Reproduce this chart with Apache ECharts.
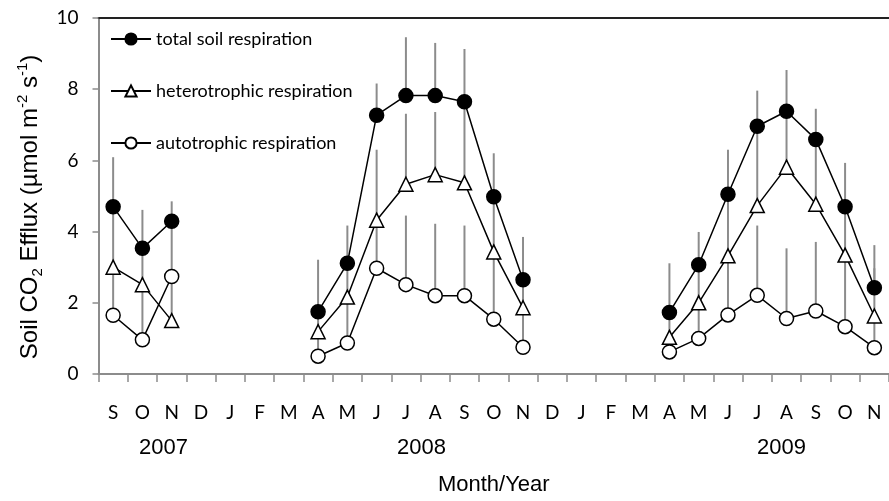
<!DOCTYPE html>
<html>
<head>
<meta charset="utf-8">
<script src="https://cdn.jsdelivr.net/npm/echarts@6/dist/echarts.min.js"></script>
<style>
  html, body { margin: 0; padding: 0; background: #fff; }
  #main { width: 889px; height: 501px; }
</style>
</head>
<body>
<div id="main"></div>
<script>
var months = ['S', 'O', 'N', 'D', 'J', 'F', 'M', 'A', 'M', 'J', 'J', 'A', 'S', 'O', 'N',
              'D', 'J', 'F', 'M', 'A', 'M', 'J', 'J', 'A', 'S', 'O', 'N'];
var years = ['2007', '2008', '2009'];

var total    = [4.70, 3.53, 4.29, null, null, null, null, 1.75, 3.11, 7.27, 7.82, 7.82, 7.65, 4.98, 2.65,
                null, null, null, null, 1.73, 3.07, 5.05, 6.96, 7.38, 6.59, 4.70, 2.42];
var totalTop = [6.09, 4.61, 4.85, null, null, null, null, 3.21, 4.17, 8.16, 9.46, 9.30, 9.13, 6.20, 3.85,
                null, null, null, null, 3.11, 3.99, 6.30, 7.96, 8.54, 7.45, 5.93, 3.62];
var hetero    = [3.00, 2.51, 1.50, null, null, null, null, 1.19, 2.16, 4.32, 5.33, 5.60, 5.37, 3.43, 1.86,
                 null, null, null, null, 1.03, 2.00, 3.32, 4.73, 5.81, 4.77, 3.34, 1.63];
var heteroTop = [4.80, 3.60, 2.90, null, null, null, null, 1.80, 3.00, 6.30, 7.31, 7.36, 7.50, 5.20, 2.70,
                 null, null, null, null, 1.80, 3.10, 5.00, 6.90, 7.40, 6.60, 4.70, 2.97];
var auto    = [1.65, 0.96, 2.74, null, null, null, null, 0.50, 0.87, 2.97, 2.51, 2.20, 2.20, 1.54, 0.75,
               null, null, null, null, 0.62, 1.00, 1.66, 2.21, 1.56, 1.77, 1.33, 0.74];
var autoTop = [3.10, 2.60, 4.30, null, null, null, null, 1.20, 2.20, 4.40, 4.45, 4.22, 4.17, 3.50, 1.90,
               null, null, null, null, 1.10, 2.10, 3.40, 4.17, 3.53, 3.71, 3.40, 1.70];

var names = ['total soil respiration', 'heterotrophic respiration', 'autotrophic respiration'];

function errData(vals, tops) {
  var out = [];
  for (var i = 0; i < vals.length; i++) {
    if (vals[i] != null) out.push([i, vals[i], tops[i]]);
  }
  return out;
}

// upper error bars, drawn under the markers
function errSeries(vals, tops) {
  return {
    type: 'custom',
    z: 1,
    silent: true,
    data: errData(vals, tops),
    encode: { x: 0, y: [1, 2] },
    renderItem: function (params, api) {
      var p0 = api.coord([api.value(0), api.value(1)]);
      var p1 = api.coord([api.value(0), api.value(2)]);
      return {
        type: 'line',
        shape: { x1: p0[0], y1: p0[1], x2: p1[0], y2: p1[1] },
        style: { stroke: '#8c8c8c', lineWidth: 2 }
      };
    }
  };
}

function lineSeries(name, vals, symbol, fill) {
  return {
    name: name,
    type: 'line',
    z: 3,
    data: vals,
    connectNulls: false,
    symbol: symbol,
    symbolSize: 14,
    lineStyle: { color: '#000', width: 1.5 },
    itemStyle: { color: fill, borderColor: '#000', borderWidth: 1.5 },
    emphasis: { disabled: true }
  };
}

var myChart = echarts.init(document.getElementById('main'));

var option = {
  animation: false,
  grid: { left: 98.5, top: 18, width: 793, height: 361 },
  legend: {
    data: names,
    orient: 'vertical',
    left: 110,
    top: 30,
    padding: 0,
    itemWidth: 40,
    itemHeight: 14,
    itemGap: 34,
    textStyle: { fontFamily: 'Lato', fontSize: 18, color: '#000' }
  },
  xAxis: [{
    type: 'category',
    data: months,
    axisLine: { lineStyle: { color: '#8c8c8c', width: 2 } },
    axisTick: { show: true, length: 8, lineStyle: { color: '#8c8c8c', width: 1.5 } },
    axisLabel: { interval: 0, margin: 29, fontFamily: 'Lato', fontSize: 19, color: '#000' },
    name: 'Month/Year',
    nameLocation: 'middle',
    nameGap: 100,
    nameTextStyle: { fontFamily: 'Liberation Sans', fontSize: 22, color: '#000' }
  }, {
    type: 'category',
    data: months,
    position: 'top',
    axisLine: { lineStyle: { color: '#222', width: 2 } },
    axisTick: { show: false },
    axisLabel: { show: false }
  }],
  yAxis: {
    type: 'value',
    min: 0,
    max: 10,
    interval: 2,
    splitLine: { show: false },
    axisLine: { show: true, lineStyle: { color: '#8c8c8c', width: 2 } },
    axisTick: { show: true, length: 6, lineStyle: { color: '#8c8c8c', width: 1.5 } },
    axisLabel: { margin: 20, fontFamily: 'Lato', fontSize: 19, color: '#000' },
    name: '{a|Soil CO}{sub|2}{a| Efflux (\u00b5mol m}{sup|-2}{a| s}{sup|-1}{a|)}',
    nameLocation: 'middle',
    nameRotate: 90,
    nameGap: 52,
    nameTextStyle: {
      padding: [0, 22, 0, 0],
      rich: {
        a: { fontFamily: 'Liberation Sans', fontSize: 24, color: '#000', lineHeight: 30 },
        sub: { fontFamily: 'Liberation Sans', fontSize: 15, color: '#000', lineHeight: 30, verticalAlign: 'bottom' },
        sup: { fontFamily: 'Liberation Sans', fontSize: 15, color: '#000', lineHeight: 30, verticalAlign: 'top' }
      }
    }
  },
  graphic: [
    { type: 'text', left: 139, top: 437, style: { text: years[0], font: '22px "Liberation Sans"', fill: '#000' } },
    { type: 'text', left: 397, top: 437, style: { text: years[1], font: '22px "Liberation Sans"', fill: '#000' } },
    { type: 'text', left: 757, top: 437, style: { text: years[2], font: '22px "Liberation Sans"', fill: '#000' } }
  ],
  series: [
    errSeries(total, totalTop),
    errSeries(hetero, heteroTop),
    errSeries(auto, autoTop),
    lineSeries(names[0], total, 'circle', '#000'),
    lineSeries(names[1], hetero, 'triangle', '#fff'),
    lineSeries(names[2], auto, 'circle', '#fff')
  ]
};

myChart.setOption(option);
</script>
</body>
</html>
